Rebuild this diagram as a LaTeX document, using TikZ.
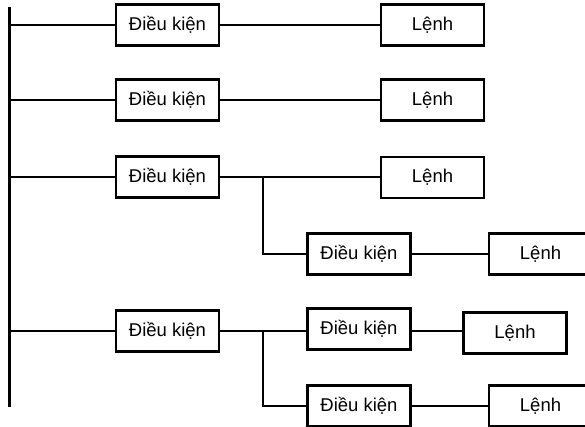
\documentclass[tikz,border=0pt]{standalone}
\usepackage{fontspec}
\setmainfont{Liberation Sans}
\begin{document}
\begin{tikzpicture}[x=1pt,y=-1pt,
  box/.style={draw, line width=2.2pt, minimum width=103pt, minimum height=41pt, inner sep=0pt, font=\fontsize{18.5}{20}\selectfont},
  wire/.style={line width=2.2pt}]
\useasboundingbox (0,0) rectangle (585,427);
\clip (0,0) rectangle (585,427);
% rail
\coordinate (top) at (9.5,7);
\coordinate (bot) at (9.5,407);
\draw[wire] (top) -- (bot);
\foreach \n/\y in {r1/25, r2/100, r3/177, r4/331}{\coordinate (\n) at (9.5,\y);}
% nodes
\node[box] (c1) at (167.5,25) {Điều kiện};
\node[box] (l1) at (432.5,25) {Lệnh};
\node[box] (c2) at (167.5,100) {Điều kiện};
\node[box] (l2) at (432.5,100) {Lệnh};
\node[box] (c3) at (167.5,177) {Điều kiện};
\node[box] (l3) at (432.5,177.5) {Lệnh};
\node[box] (c3b) at (359,254) {Điều kiện};
\node[box] (l3b) at (540.5,254) {Lệnh};
\node[box] (c4) at (167.5,331) {Điều kiện};
\node[box] (c4a) at (359,329) {Điều kiện};
\node[box] (l4a) at (515,333) {Lệnh};
\node[box] (c5) at (359,406) {Điều kiện};
\node[box] (l5) at (540.5,406) {Lệnh};
% junctions
\coordinate (j3) at (263,177);
\coordinate (j4) at (263,331);
% wires
\draw[wire] (r1) -- (c1.west);
\draw[wire] (c1.east) -- (l1.west |- c1.east);
\draw[wire] (r2) -- (c2.west);
\draw[wire] (c2.east) -- (l2.west |- c2.east);
\draw[wire] (r3) -- (c3.west);
\draw[wire] (c3.east) -- (l3.west |- c3.east);
\draw[wire] (j3) |- (c3b.west);
\draw[wire] (c3b.east) -- (l3b.west);
\draw[wire] (r4) -- (c4.west);
\draw[wire] (c4.east) -- (c4a.west |- c4.east);
\draw[wire] (c4a.east |- 0,331) -- (l4a.west |- 0,331);
\draw[wire] (j4) |- (c5.west);
\draw[wire] (c5.east) -- (l5.west);
\end{tikzpicture}
\end{document}
